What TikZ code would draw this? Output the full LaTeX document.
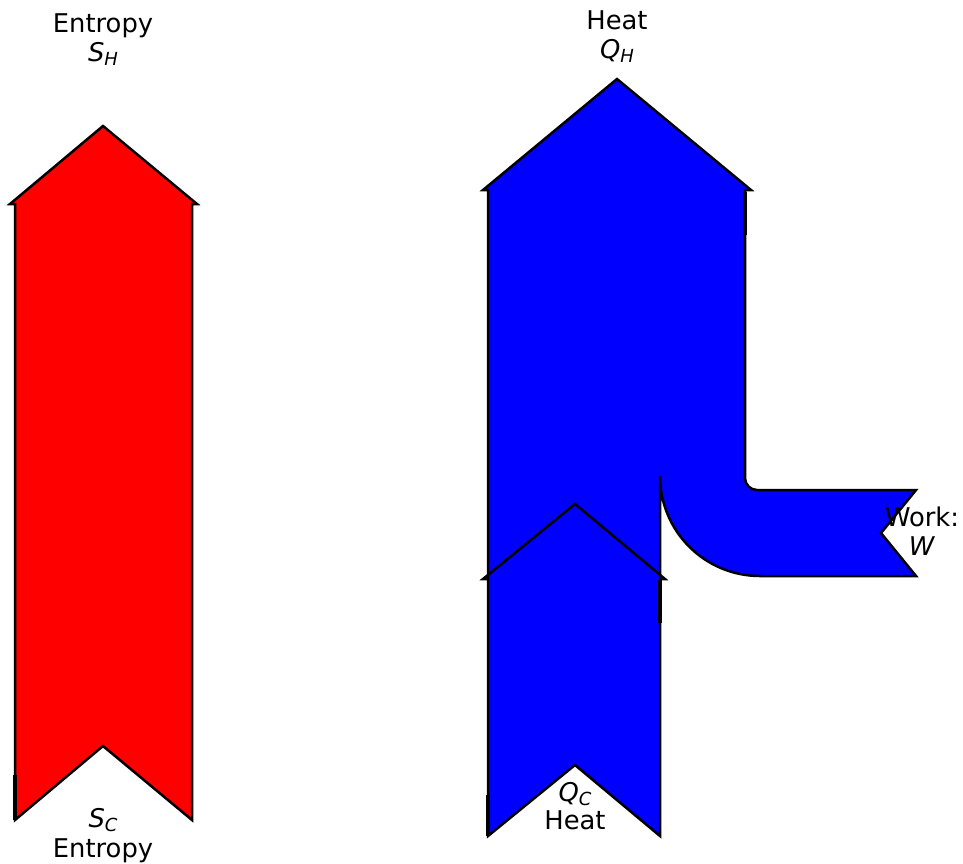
\documentclass[tikz,border=0pt]{standalone}
\usepackage{fontspec}
\setmainfont{DejaVu Sans}
\begin{document}
\begin{tikzpicture}[x=1pt,y=-1pt,
  flow/.style={draw=black,line width=2.5pt,line join=miter},
  seam/.style={draw=black,line width=3.5pt},
  lbl/.style={anchor=base,inner sep=0pt,font=\fontsize{25.8}{30}\selectfont}]
\useasboundingbox (0,0) rectangle (963,863);
\newcommand{\symsub}[2]{\textit{#1}\raisebox{-0.35ex}{\fontsize{18}{20}\selectfont\itshape #2}}
% red entropy arrow
\path[flow,fill={rgb,255:red,255;green,0;blue,0}]
  (15,820) -- (15,204) -- (10,204) -- (103,126) -- (197,204) -- (192,204)
  -- (192,820) -- (103,746) -- cycle;
% blue heat / work flow
\path[flow,fill={rgb,255:red,0;green,0;blue,255}]
  (488,836) -- (488,190) -- (483,190) -- (617,79) -- (751,190) -- (745,190)
  -- (745,478) arc[start angle=180,end angle=90,radius=12]
  -- (916,490) -- (881,533) -- (916,576) -- (760,576)
  arc[start angle=90,end angle=180,radius=100]
  -- (660,836) -- (575,765) -- cycle;
% inner arrowhead of Q_C
\draw[flow] (488,579) -- (483,579) -- (575,504) -- (665,579) -- (660,579);
% slightly heavier seams of the outline
\coordinate (r1) at (15,775); \coordinate (r2) at (15,820);
\coordinate (b1) at (488,795); \coordinate (b2) at (488,836);
\coordinate (b3) at (745,192); \coordinate (b4) at (745,235);
\coordinate (b5) at (660,580); \coordinate (b6) at (660,623);
\draw[seam] (r1) -- (r2);
\draw[seam] (b1) -- (b2);
\draw[seam] (b3) -- (b4);
\draw[seam] (b5) -- (b6);
% labels
\node[lbl] (eh) at (103,32) {Entropy};
\node[lbl] (sh) at (103,61) {\symsub{S}{H}};
\node[lbl] (hh) at (617,29) {Heat};
\node[lbl] (qh) at (617,58) {\symsub{Q}{H}};
\node[lbl] (sc) at (103,827) {\symsub{S}{C}};
\node[lbl] (ec) at (103,857) {Entropy};
\node[lbl] (qc) at (575,801) {\symsub{Q}{C}};
\node[lbl] (hc) at (575,829) {Heat};
\node[lbl] (wk) at (922,526) {Work:};
\node[lbl] (w) at (922,555) {\textit{W}};
\end{tikzpicture}
\end{document}
